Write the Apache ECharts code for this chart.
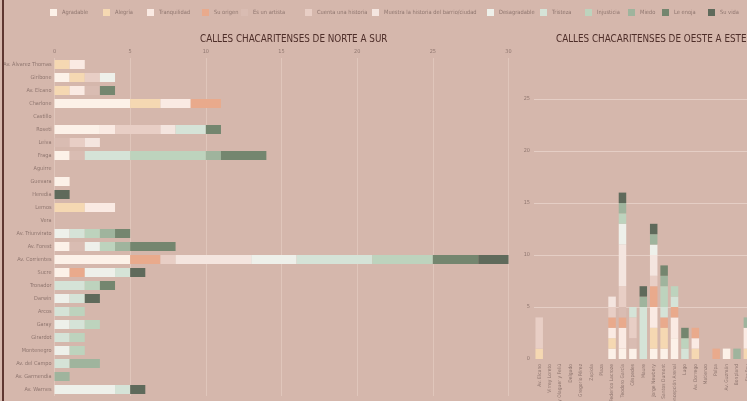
<!DOCTYPE html>
<html>
<head>
<meta charset="utf-8">
<script src="https://cdn.jsdelivr.net/npm/echarts@6/dist/echarts.min.js"></script>
<style>
html,body{margin:0;padding:0;background:#d5b7ac;}
#wrap{position:relative;width:747px;height:401px;overflow:hidden;}
#chart{position:absolute;left:0;top:0;width:747px;height:401px;}
#edge{position:absolute;left:2px;top:0;width:1.5px;height:401px;background:#5e3731;}
</style>
</head>
<body>
<div id="wrap"><div id="chart"></div><div id="edge"></div></div>
<script>
// ---------- data ----------
const seriesNames = ["Agradable","Alegría","Tranquilidad","Su origen","Es un artista","Cuenta una historia","Muestra la historia del barrio/ciudad","Desagradable","Tristeza","Injusticia","Miedo","Le enoja","Su vida"];
const seriesColors = ["#fcf1e8","#f5d8b2","#faeae3","#e9aa8c","#d9bcb2","#e8cec5","#f4e5df","#eef0ea","#d5e3d7","#bdd3bd","#9fb49d","#74866f","#5f6a5b"];

const titleLeft = "CALLES CHACARITENSES DE NORTE A SUR";
const titleRight = "CALLES CHACARITENSES DE OESTE A ESTE";

// north to south streets (left chart)
const streetsNS = ["Av. Álvarez Thomas","Giribone","Av. Elcano","Charlone","Castillo","Roseti","Leiva","Fraga","Aguirre","Guevara","Heredia","Lemos","Vera","Av. Triunvirato","Av. Forest","Av. Corrientes","Sucre","Tronador","Darwin","Arcos","Garay","Girardot","Montenegro","Av. del Campo","Av. Garmendia","Av. Warnes"];
const nsAgradable    = [0,1,0,5,0,3,0,1,0,1,0,0,0,0,1,5,1,0,0,0,0,0,0,0,0,0];
const nsAlegria      = [1,1,1,2,0,0,0,0,0,0,0,2,0,0,0,0,0,0,0,0,0,0,0,0,0,0];
const nsTranquilidad = [1,0,1,2,0,1,0,0,0,0,0,2,0,0,0,0,0,0,0,0,0,0,0,0,0,0];
const nsOrigen       = [0,0,0,2,0,0,0,0,0,0,0,0,0,0,0,2,1,0,0,0,0,0,0,0,0,0];
const nsArtista      = [0,0,1,0,0,0,1,1,0,0,0,0,0,0,1,0,0,0,0,0,0,0,0,0,0,0];
const nsCuenta       = [0,1,0,0,0,3,1,0,0,0,0,0,0,0,0,1,0,0,0,0,0,0,0,0,0,0];
const nsMuestra      = [0,0,0,0,0,1,1,0,0,0,0,0,0,0,0,5,0,0,0,0,0,0,0,0,0,0];
const nsDesagradable = [0,1,0,0,0,0,0,0,0,0,0,0,0,1,1,3,2,0,1,0,1,0,1,0,0,4];
const nsTristeza     = [0,0,0,0,0,2,0,3,0,0,0,0,0,1,0,5,1,2,1,1,1,1,0,1,0,1];
const nsInjusticia   = [0,0,0,0,0,0,0,5,0,0,0,0,0,1,1,4,0,1,0,1,1,1,1,0,0,0];
const nsMiedo        = [0,0,0,0,0,0,0,1,0,0,0,0,0,1,1,0,0,0,0,0,0,0,0,2,1,0];
const nsEnoja        = [0,0,1,0,0,1,0,3,0,0,0,0,0,1,3,3,0,1,0,0,0,0,0,0,0,0];
const nsVida         = [0,0,0,0,0,0,0,0,0,0,1,0,0,0,0,2,1,0,1,0,0,0,0,0,0,1];

// west to east streets (right chart)
const streetsWE = ["Av. Elcano","Virrey Loreto","Virrey Olaguer y Feliú","Delgado","Gregorio Pérez","Zapiola","Plaza","Federico Lacroze","Teodoro García","Céspedes","Maure","Jorge Newbery","Santos Dumont","Concepción Arenal","Lugo","Av. Dorrego","Matienzo","Palpa","Av. Guzmán","Bonpland","Fitz Roy","Humboldt"];
const weAgradable    = [0,0,0,0,0,0,0,1,1,1,0,1,1,2,0,0,0,0,1,0,0,0];
const weAlegria      = [1,0,0,0,0,0,0,1,0,0,0,2,2,0,0,1,0,0,0,0,1,0];
const weTranquilidad = [0,0,0,0,0,0,0,1,2,0,0,2,0,2,0,1,0,0,0,0,2,0];
const weOrigen       = [0,0,0,0,0,0,0,1,1,0,0,2,1,1,0,1,0,1,0,0,0,0];
const weArtista      = [0,0,0,0,0,0,0,0,1,1,0,0,0,0,0,0,0,0,0,0,0,0];
const weCuenta       = [3,0,0,0,0,0,0,1,2,2,0,1,0,0,0,0,0,0,0,0,0,0];
const weMuestra      = [0,0,0,0,0,0,0,1,4,0,0,2,0,0,0,0,0,0,0,0,0,0];
const weDesagradable = [0,0,0,0,0,0,0,0,2,0,0,1,0,0,0,0,0,0,0,0,0,0];
const weTristeza     = [0,0,0,0,0,0,0,0,0,1,5,0,1,1,1,0,0,0,0,0,0,0];
const weInjusticia   = [0,0,0,0,0,0,0,0,1,0,0,0,2,1,1,0,0,0,0,0,0,0];
const weMiedo        = [0,0,0,0,0,0,0,0,1,0,1,1,1,0,0,0,0,0,0,1,1,0];
const weEnoja        = [0,0,0,0,0,0,0,0,0,0,0,0,1,0,1,0,0,0,0,0,0,0];
const weVida         = [0,0,0,0,0,0,0,0,1,0,1,1,0,0,0,0,0,0,0,0,0,0];

const nsData = [nsAgradable,nsAlegria,nsTranquilidad,nsOrigen,nsArtista,nsCuenta,nsMuestra,nsDesagradable,nsTristeza,nsInjusticia,nsMiedo,nsEnoja,nsVida];
const weData = [weAgradable,weAlegria,weTranquilidad,weOrigen,weArtista,weCuenta,weMuestra,weDesagradable,weTristeza,weInjusticia,weMiedo,weEnoja,weVida];

// ---------- chart ----------
const FONT = "'Liberation Sans Narrow','DejaVu Sans Condensed','Noto Sans',sans-serif";
const labelColor = "#8f766f";
const legendLefts = [50,103,147,202,241,305,372,487,540,585,628,662,708];
const chart = echarts.init(document.getElementById('chart'), null, {renderer:'canvas'});

const series = [];
seriesNames.forEach((n,i)=>{
  series.push({name:n,type:'bar',stack:'ns',xAxisIndex:0,yAxisIndex:0,barWidth:9,
    itemStyle:{color:seriesColors[i]},data:nsData[i],silent:true});
});
seriesNames.forEach((n,i)=>{
  series.push({name:n,type:'bar',stack:'we',xAxisIndex:1,yAxisIndex:1,barWidth:7.5,
    itemStyle:{color:seriesColors[i]},data:weData[i],silent:true});
});

const legends = seriesNames.map((n,i)=>({
  data:[n],left:legendLefts[i],top:9,padding:0,itemWidth:7,itemHeight:7,icon:'rect',
  textStyle:{fontFamily:FONT,fontSize:5.7,color:labelColor}
}));

chart.setOption({
  backgroundColor:'#d5b7ac',
  animation:false,
  textStyle:{fontFamily:FONT},
  title:[
    {text:titleLeft,left:200,top:34,padding:0,textStyle:{fontFamily:FONT,fontSize:9.8,fontWeight:'normal',color:'#4e2e29'}},
    {text:titleRight,left:556,top:34,padding:0,textStyle:{fontFamily:FONT,fontSize:9.8,fontWeight:'normal',color:'#4e2e29'}}
  ],
  legend:legends,
  grid:[
    {left:54.5,top:58,width:454,height:338,outerBoundsMode:'none'},
    {left:534,top:47,width:229,height:312,outerBoundsMode:'none'}
  ],
  xAxis:[
    {type:'value',gridIndex:0,position:'top',min:0,max:30,interval:5,
      axisLine:{show:false},axisTick:{show:false},
      axisLabel:{fontSize:5.5,color:labelColor,margin:3,fontFamily:FONT},
      splitLine:{show:true,lineStyle:{color:'rgba(236,214,205,0.6)',width:0.8}}},
    {type:'category',gridIndex:1,data:streetsWE,
      axisLine:{show:false},axisTick:{show:false},
      axisLabel:{rotate:90,interval:0,fontSize:5,color:labelColor,margin:5,fontFamily:FONT}}
  ],
  yAxis:[
    {type:'category',gridIndex:0,inverse:true,data:streetsNS,
      axisLine:{show:false},axisTick:{show:false},
      axisLabel:{fontSize:5.5,color:labelColor,margin:3,fontFamily:FONT}},
    {type:'value',gridIndex:1,min:0,max:30,interval:5,
      axisLine:{show:false},axisTick:{show:false},
      axisLabel:{fontSize:5.5,color:labelColor,margin:4,showMaxLabel:false,fontFamily:FONT},
      splitLine:{show:true,showMaxLine:false,showMinLine:false,lineStyle:{color:'rgba(240,222,215,0.75)',width:0.8}}}
  ],
  series:series
});
</script>
</body>
</html>
